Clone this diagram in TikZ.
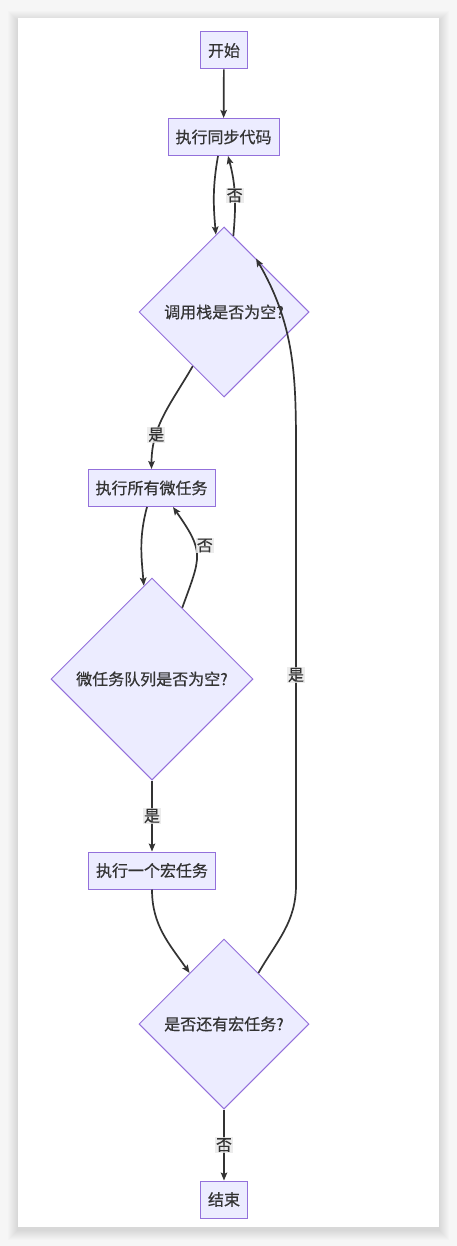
\documentclass[tikz,border=0pt]{standalone}
\usepackage{fontspec}
\newfontfamily\cjk[FakeBold=0.6]{Noto Sans CJK SC}
\usetikzlibrary{shapes.geometric,arrows.meta}
\definecolor{nodefill}{HTML}{ECECFF}
\definecolor{nodeline}{HTML}{9370DB}
\definecolor{edgeline}{HTML}{333333}
\definecolor{lblfill}{HTML}{E8E8E8}
\definecolor{pagebg}{HTML}{F6F6F6}

\begin{document}
\begin{tikzpicture}
  [
    x=1pt, y=1pt,
    every node/.style={font=\cjk\fontsize{16}{19}\selectfont, text=edgeline},
    box/.style={draw=nodeline, fill=nodefill, line width=1pt, minimum height=37pt, inner xsep=7.5pt},
    choice/.style={draw=nodeline, fill=nodefill, line width=1pt, diamond, inner sep=0pt, minimum width=#1, minimum height=#1},
    choice/.default=170pt,
    flow/.style={draw=edgeline, line width=1.7pt, -{Stealth[length=8pt, width=6.5pt, inset=1.5pt]}},
    lbl/.style={fill=lblfill, fill opacity=.8, text opacity=1, inner sep=1pt},
  ]

  % page and card
  \fill [pagebg] (0,0) rectangle (457,-1246);
  \foreach \s in {1,2,...,10} {
    \fill [black, opacity=.011] (18-\s, -18+\s-3) rectangle (439+\s, -1227-\s-3);
  }
  \fill [white] (18,-18) rectangle (439,-1227);
  \useasboundingbox (0,0) rectangle (457,-1246);

  % nodes
  \node [box] (start) at (224,-50.5) {开始};
  \node [box] (sync) at (223.5,-137) {执行同步代码};
  \node [choice] (stack) at (224,-312) {调用栈是否为空?};
  \node [box] (micro) at (151.5,-488) {执行所有微任务};
  \node [choice=202pt] (queue) at (152,-679) {微任务队列是否为空?};
  \node [box] (macro) at (152,-870.5) {执行一个宏任务};
  \node [choice] (more) at (224,-1024) {是否还有宏任务?};
  \node [box] (end) at (224,-1199.5) {结束};

  % edges
  \draw [flow] (start) -- (sync);
  \draw [flow] ([xshift=-5.5pt]sync.south) to [out=-100, in=95] (stack.96);
  \draw [flow] (stack.83) to [out=85, in=-75] node [lbl] {否} ([xshift=4.5pt]sync.south);
  \draw [flow] (stack.240) to [out=-120, in=90] node [lbl, pos=.7] {是} (micro.north);
  \draw [flow] ([xshift=-4.5pt]micro.south) to [out=-105, in=95] (queue.95);
  \draw [flow] (queue.67) to [out=70, in=-55, looseness=1.4] node [lbl, right, pos=.62] {否} ([xshift=21.5pt]micro.south);
  \draw [flow] (queue) -- node [lbl] {是} (macro);
  \draw [flow] (macro.south) to [out=-90, in=125] (more.124);
  \draw [flow] (more) -- node [lbl] {否} (end);

  % back to the call stack
  \coordinate (back low) at (296,-885);
  \coordinate (back high) at (296,-465);
  \draw [flow] (more.56) to [out=60, in=-90] (back low) -- node [lbl] {是} (back high) to [out=90, in=-60] (stack.59);

\end{tikzpicture}
\end{document}
